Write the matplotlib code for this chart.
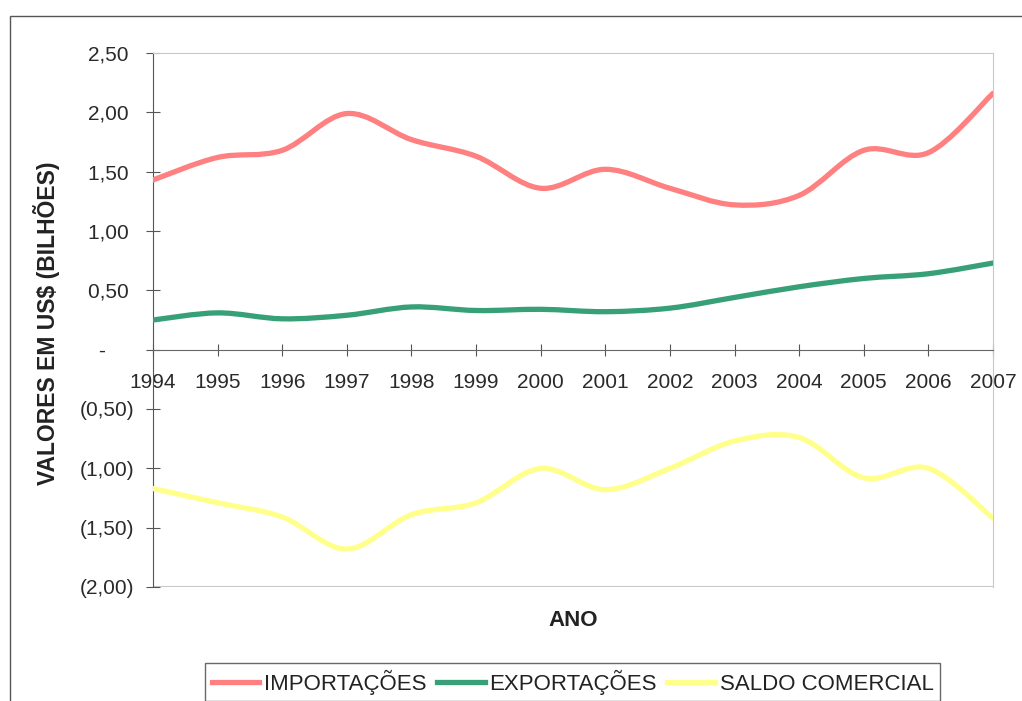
import numpy as np
import matplotlib
matplotlib.use("Agg")
import matplotlib.pyplot as plt
from matplotlib.path import Path
from matplotlib.patches import PathPatch, Rectangle
from matplotlib.lines import Line2D
from matplotlib.ticker import FuncFormatter

plt.rcParams['font.family'] = ['Liberation Sans', 'DejaVu Sans']

# balança comercial (US$ bilhões)
anos = [1994, 1995, 1996, 1997, 1998, 1999, 2000, 2001, 2002, 2003, 2004, 2005, 2006, 2007]
importacoes = [1.43, 1.62, 1.68, 1.99, 1.77, 1.63, 1.36, 1.52, 1.36, 1.22, 1.30, 1.68, 1.66, 2.16]
exportacoes = [0.25, 0.31, 0.26, 0.29, 0.36, 0.33, 0.34, 0.32, 0.35, 0.44, 0.53, 0.60, 0.64, 0.73]
saldo = [-1.17, -1.29, -1.41, -1.68, -1.39, -1.29, -1.00, -1.18, -1.00, -0.77, -0.74, -1.08, -1.00, -1.42]

nomes = ["IMPORTAÇÕES", "EXPORTAÇÕES", "SALDO COMERCIAL"]
cores = ["#ff8080", "#38a077", "#ffff8c"]


def curva_suave(x, y):
    # linha suavizada tipo Excel (Bezier cubica, Catmull-Rom)
    pts = np.column_stack([x, y]).astype(float)
    n = len(pts)
    verts = [pts[0]]
    codes = [Path.MOVETO]
    for i in range(n - 1):
        p0 = pts[max(i - 1, 0)]
        p1 = pts[i]
        p2 = pts[i + 1]
        p3 = pts[min(i + 2, n - 1)]
        c1 = p1 + (p2 - p0) / 6.0
        c2 = p2 - (p3 - p1) / 6.0
        verts += [c1, c2, p2]
        codes += [Path.CURVE4] * 3
    return Path(verts, codes)


def fmt_valor(v, pos):
    if abs(v) < 1e-9:
        return "-     "
    s = ("%.2f" % abs(v)).replace(".", ",")
    if v < 0:
        return "(" + s + ")"
    return s + " "


fig = plt.figure(figsize=(10.22, 7.01), dpi=100)

# moldura externa
fig.patches.append(Rectangle((10 / 1022, -0.1), 1.2, 1.1 - 16 / 701,
                             transform=fig.transFigure, fill=False,
                             edgecolor="#555555", lw=1.0))

ax = fig.add_axes([153 / 1022, 1 - 587 / 701, 840 / 1022, 534 / 701])
ymin, ymax = -2.0, 2.5
ax.set_xlim(anos[0], anos[-1])
ax.set_ylim(ymin, ymax)

for serie, cor in zip([importacoes, exportacoes, saldo], cores):
    ax.add_patch(PathPatch(curva_suave(anos, serie), fill=False,
                           edgecolor=cor, lw=3.8, capstyle="round",
                           joinstyle="round", zorder=3))

ax.spines['bottom'].set_position(('data', 0))
ax.spines['bottom'].set_color("#666666")
ax.spines['left'].set_color("#555555")
ax.spines['top'].set_color("#c8c8c8")
ax.spines['right'].set_color("#c8c8c8")
ax.axhline(ymin, color="#c8c8c8", lw=1.5, zorder=1)

ax.set_xticks(anos)
ax.set_xticklabels([str(a) for a in anos])
ax.set_yticks(np.arange(-2.0, 2.51, 0.5))
ax.yaxis.set_major_formatter(FuncFormatter(fmt_valor))
ax.tick_params(axis='x', direction='inout', length=9, color="#555555",
               labelsize=15, labelcolor="#2a2a2a", pad=12)
ax.tick_params(axis='y', direction='inout', length=10, color="#555555",
               labelsize=15, labelcolor="#2a2a2a", pad=8.5)

fig.text(47 / 1022, 1 - 323 / 701, "VALORES EM US$ (BILHÕES)", rotation=90,
         ha="center", va="center", fontsize=16.5, fontweight="bold", color="#222222")
fig.text(573 / 1022, 1 - 621 / 701, "ANO", ha="center", va="center",
         fontsize=16, fontweight="bold", color="#222222")

handles = [Line2D([], [], color=c, lw=3.8) for c in cores]
leg = fig.legend(handles, nomes, loc="upper left", ncol=3,
                 bbox_to_anchor=(205 / 1022, 1 - 663 / 701),
                 fontsize=16, frameon=True, fancybox=False,
                 handlelength=2.15, handletextpad=0.22, columnspacing=0.45,
                 borderpad=0.3, borderaxespad=0)
leg.get_frame().set_edgecolor("#444444")
leg.get_frame().set_linewidth(1.0)
for t in leg.get_texts():
    t.set_color("#222222")

fig.savefig("out.png", dpi=100)
